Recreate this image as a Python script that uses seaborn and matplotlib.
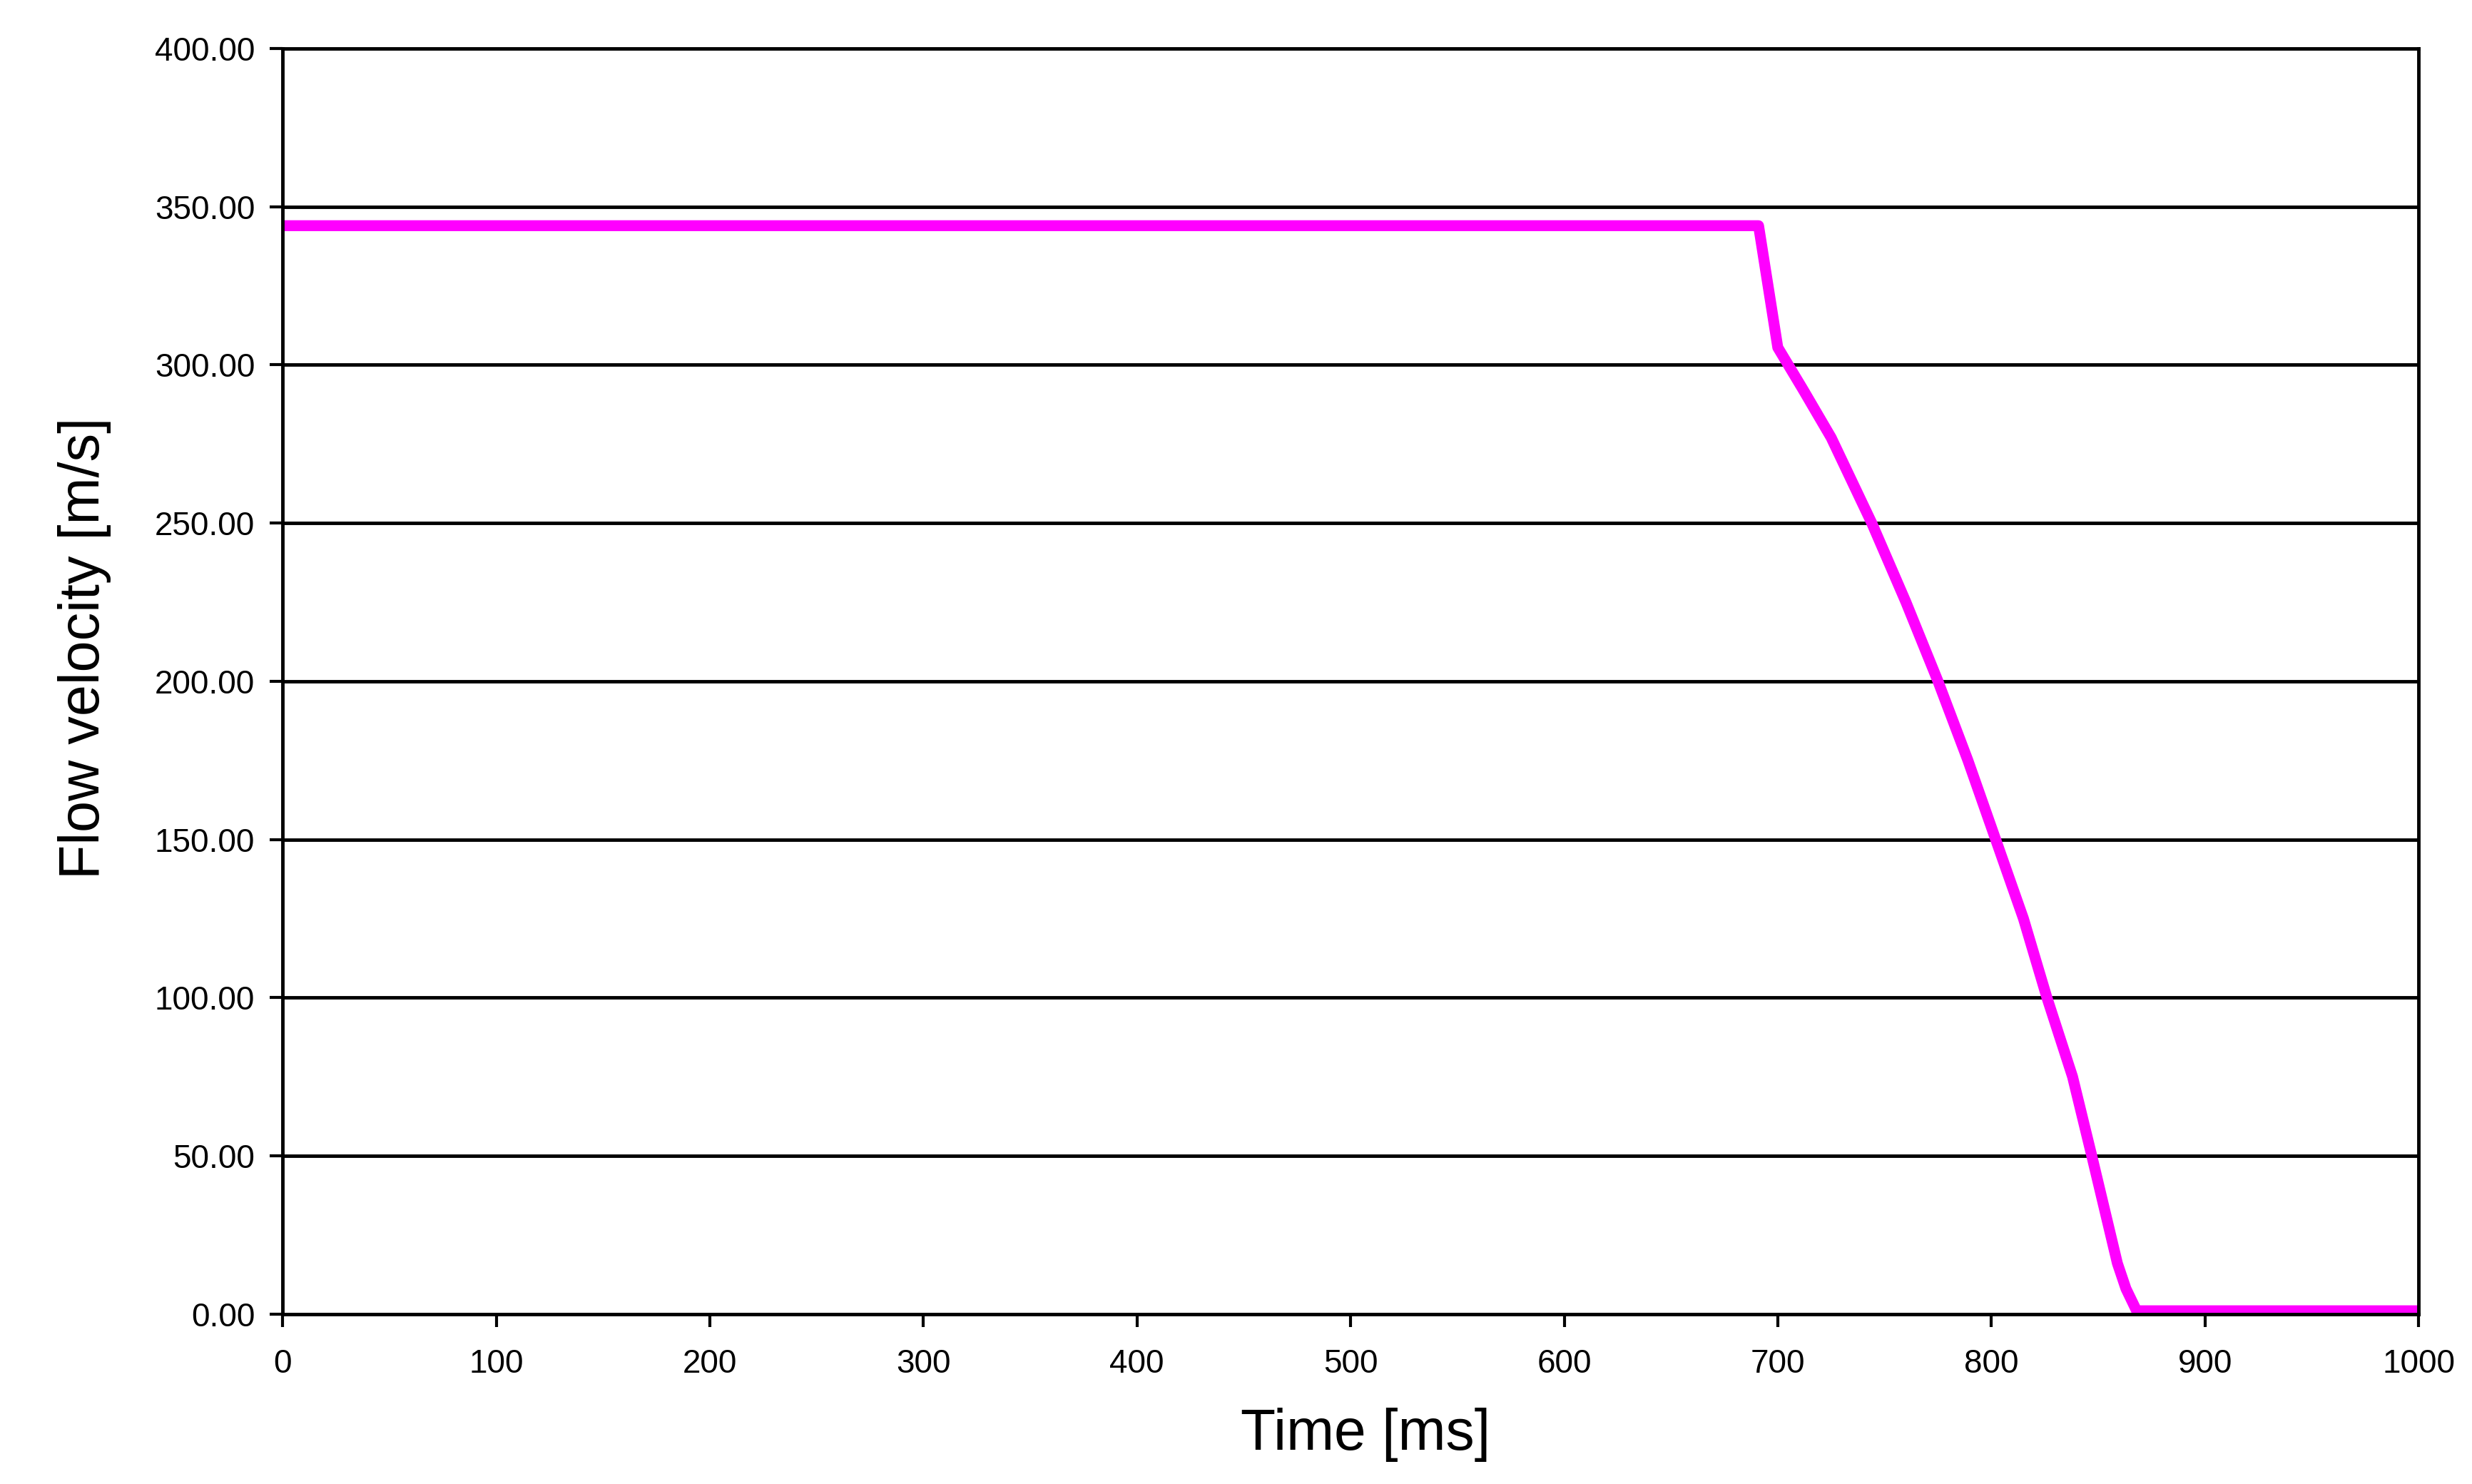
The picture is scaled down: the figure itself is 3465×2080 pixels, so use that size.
import matplotlib
matplotlib.use("Agg")
import matplotlib.pyplot as plt
import seaborn as sns
import pandas as pd
from matplotlib.ticker import FormatStrFormatter

# values
time_ms = [0, 691, 700, 712, 725, 744, 760, 775, 789, 802, 815, 826, 838, 847, 859, 863, 868, 1000]
velocity = [344, 344, 305.5, 292, 277, 250, 225, 200, 175, 150, 125, 100, 75, 50, 16, 8, 1, 1]
x_ticks = [0, 100, 200, 300, 400, 500, 600, 700, 800, 900, 1000]
y_ticks = [0, 50, 100, 150, 200, 250, 300, 350, 400]

df = pd.DataFrame({"Time": time_ms, "Velocity": velocity})

sns.set_theme(style="white")
plt.rcParams['font.family'] = ['Liberation Sans', 'DejaVu Sans']

fig = plt.figure(figsize=(34.66, 20.8), dpi=100)
ax = fig.add_axes([0.1143, 0.1146, 0.8638, 0.8527])

sns.lineplot(data=df, x="Time", y="Velocity", ax=ax, color="#FF00FF",
             linewidth=11, zorder=2)

ax.set_xlim(0, 1000)
ax.set_ylim(0, 400)
ax.set_xticks(x_ticks)
ax.set_yticks(y_ticks)
ax.yaxis.set_major_formatter(FormatStrFormatter('%.2f'))

# horizontal grid only, black
ax.grid(axis='y', color='black', linewidth=3.5)
ax.grid(axis='x', visible=False)
ax.set_axisbelow(True)

for side in ['left', 'right', 'top', 'bottom']:
    ax.spines[side].set_visible(True)
    ax.spines[side].set_color('black')
    ax.spines[side].set_linewidth(3.5)

ax.tick_params(axis='both', which='major', direction='out', length=13, width=3,
               color='black', labelsize=33, labelcolor='black')
ax.tick_params(axis='x', pad=22, bottom=True)
ax.tick_params(axis='y', pad=15, left=True)

ax.set_xlabel('Time [ms]', fontsize=58, color='black', labelpad=28, x=0.507)
ax.set_ylabel('Flow velocity [m/s]', fontsize=57, color='black', labelpad=44, y=0.526)

plt.savefig("out.png", dpi=100, facecolor='white')
